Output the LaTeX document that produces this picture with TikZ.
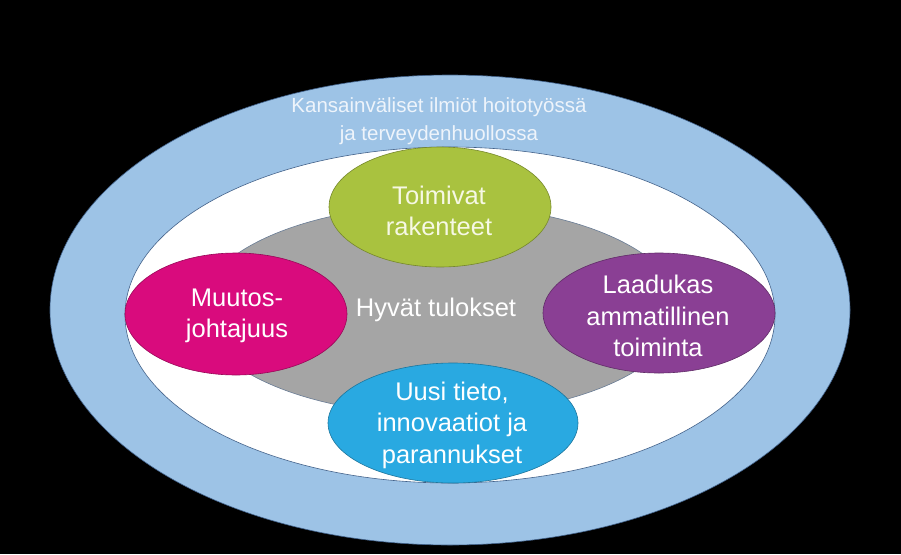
\documentclass[tikz,border=0pt]{standalone}
\usepackage{fontspec}
\setmainfont{Liberation Sans}
\begin{document}
\begin{tikzpicture}[x=1pt,y=-1pt,
  blob/.style={draw=#1!70!black, line width=0.6pt, fill=#1},
  lbl/.style={align=center, text=white, font=\fontsize{25.5}{31.5}\selectfont, inner sep=0pt}]
\definecolor{outerblue}{HTML}{9DC3E6}
\definecolor{ringline}{HTML}{41618A}
\definecolor{midgray}{HTML}{A5A5A5}
\definecolor{cgreen}{HTML}{A9C23F}
\definecolor{cmagenta}{HTML}{D90B7D}
\definecolor{cpurple}{HTML}{8A3F94}
\definecolor{cblue}{HTML}{29A9E1}
\definecolor{outertext}{HTML}{EEF4FB}
\definecolor{greentext}{HTML}{F6F8E4}
\fill[black] (0,0) rectangle (901,554);
\useasboundingbox (0,0) rectangle (901,554);
% outer ring
\path[draw=ringline, line width=0.6pt, fill=outerblue] (450,310) ellipse [x radius=400, y radius=235];
\path[draw=ringline, line width=0.6pt, fill=white] (450,315) ellipse [x radius=325, y radius=168];
\path[draw=ringline!60!midgray, line width=0.6pt, fill=midgray] (440,310) ellipse [x radius=240, y radius=105];
% satellites
\path[blob=cgreen] (440,207) ellipse [x radius=111, y radius=60];
\path[blob=cmagenta] (236,314) ellipse [x radius=111, y radius=61];
\path[blob=cpurple] (659,313) ellipse [x radius=116, y radius=60];
\path[blob=cblue] (453,423) ellipse [x radius=125, y radius=60];
% texts
\node[align=center, text=outertext, font=\fontsize{20.5}{28}\selectfont, inner sep=0pt] (outer) at (439,121) {Kansainväliset ilmiöt hoitotyössä\\ja terveydenhuollossa};
\node[lbl, text=greentext] (green) at (439,211) {Toimivat\\rakenteet};
\node[lbl] (center) at (436,310) {Hyvät tulokset};
\node[lbl] (magenta) at (237,316) {Muutos-\\johtajuus};
\node[lbl] (purple) at (658,316) {Laadukas\\ammatillinen\\toiminta};
\node[lbl] (blue) at (452,425) {Uusi tieto,\\innovaatiot ja\\parannukset};
\end{tikzpicture}
\end{document}
